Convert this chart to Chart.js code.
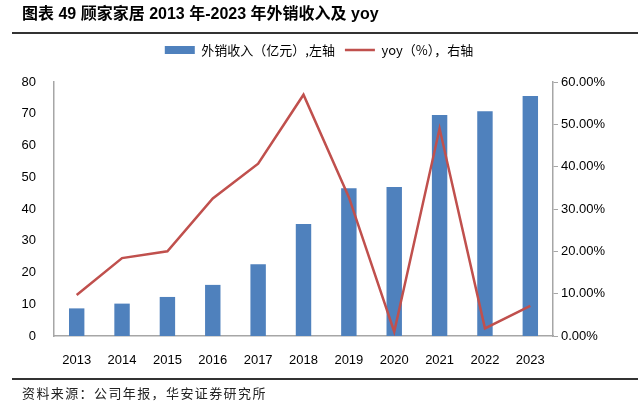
<!DOCTYPE html>
<html>
<head>
<meta charset="utf-8">
<script src="https://cdn.jsdelivr.net/npm/chart.js@4"></script>
<style>
  html, body { margin: 0; padding: 0; background: #fff; }
  body { width: 638px; height: 410px; position: relative; overflow: hidden; }
  #title { position: absolute; left: 22px; top: 4px; font: bold 16px/19px "Liberation Sans", "Noto Sans CJK SC", sans-serif; color: #000; white-space: nowrap; }
  #tline { position: absolute; left: 12px; right: 0; top: 32px; height: 2px; background: #333; }
  #bline { position: absolute; left: 12px; right: 0; top: 378px; height: 1.5px; background: #333; }
  #foot { position: absolute; left: 22px; top: 384px; font: 13px/18px "Noto Sans CJK SC", sans-serif; letter-spacing: 1.4px; color: #222; white-space: nowrap; }
  #wrap { position: absolute; left: 0; top: 0; width: 638px; height: 410px; }
  canvas { display: block; }
</style>
</head>
<body>
<div id="wrap"><canvas id="c" width="638" height="410" style="width:638px;height:410px"></canvas></div>
<div id="title">图表 49 顾家家居 2013 年-2023 年外销收入及 yoy</div>
<div id="tline"></div>
<div id="bline"></div>
<div id="foot">资料来源：公司年报，华安证券研究所</div>
<script>
const years = ['2013','2014','2015','2016','2017','2018','2019','2020','2021','2022','2023'];
const exportRevenue = [8.7, 10.2, 12.3, 16.1, 22.6, 35.3, 46.5, 46.9, 69.6, 70.8, 75.6];
const yoyPct = [9.7, 18.4, 20.0, 32.5, 40.7, 57.0, 32.8, 1.0, 49.0, 1.8, 7.1];
const barLabel = '外销收入（亿元）,左轴';
const lineLabel = 'yoy（%），右轴';

const tickFont = { family: '"Liberation Sans", Arial, sans-serif', size: 13 };
const axisGray = '#a6a6a6';

new Chart(document.getElementById('c'), {
  data: {
    labels: years,
    datasets: [
      {
        type: 'bar', label: barLabel, data: exportRevenue, yAxisID: 'y',
        backgroundColor: '#4F81BD', borderWidth: 0,
        barPercentage: 0.34, categoryPercentage: 1, order: 1
      },
      {
        type: 'line', label: lineLabel, data: yoyPct, yAxisID: 'y1',
        borderColor: '#C0504D', backgroundColor: '#C0504D', borderWidth: 2.5,
        pointRadius: 0, tension: 0, order: 0
      }
    ]
  },
  options: {
    responsive: false,
    maintainAspectRatio: false,
    animation: false,
    devicePixelRatio: 1,
    layout: { padding: { top: 33.5, left: 0, right: 0, bottom: 34 } },
    plugins: {
      tooltip: { enabled: false },
      legend: {
        position: 'top',
        labels: {
          usePointStyle: true, pointStyleWidth: 30, boxHeight: 8, padding: 10,
          color: '#000',
          font: { family: '"Noto Sans CJK SC", sans-serif', size: 13 },
          generateLabels: (chart) => {
            const items = Chart.defaults.plugins.legend.labels.generateLabels(chart);
            items.sort((a, b) => a.datasetIndex - b.datasetIndex);
            items.forEach(it => {
              if (it.datasetIndex === 0) { it.pointStyle = 'rect'; it.lineWidth = 0; it.fillStyle = '#4F81BD'; }
              else { it.pointStyle = 'line'; it.lineWidth = 2.5; it.strokeStyle = '#C0504D'; }
            });
            return items;
          }
        }
      },
      subtitle: {
        display: true, text: '', position: 'top', weight: 500,
        font: { size: 1, lineHeight: 1 }, padding: { top: 14.5, bottom: 0 }
      }
    },
    scales: {
      x: {
        type: 'category', offset: true,
        grid: { display: false },
        border: { display: true, color: axisGray, width: 1.5 },
        ticks: { color: '#000', font: tickFont, padding: 9, maxRotation: 0 },
        afterFit: (s) => { s.height = 40; }
      },
      y: {
        type: 'linear', position: 'left', min: 0, max: 80,
        grid: { display: false },
        border: { display: true, color: axisGray, width: 1.5 },
        ticks: { stepSize: 10, color: '#000', font: tickFont, padding: 10 },
        afterFit: (s) => { s.width = 54; }
      },
      y1: {
        type: 'linear', position: 'right', min: 0, max: 60,
        grid: { display: true, drawOnChartArea: false, drawTicks: true, tickLength: 5, color: axisGray, lineWidth: 1 },
        border: { display: true, color: axisGray, width: 1.5 },
        ticks: { stepSize: 10, color: '#000', font: tickFont, padding: 3,
          callback: (v) => Number(v).toFixed(2) + '%' },
        afterFit: (s) => { s.width = 85; }
      }
    }
  }
});
</script>
</body>
</html>
